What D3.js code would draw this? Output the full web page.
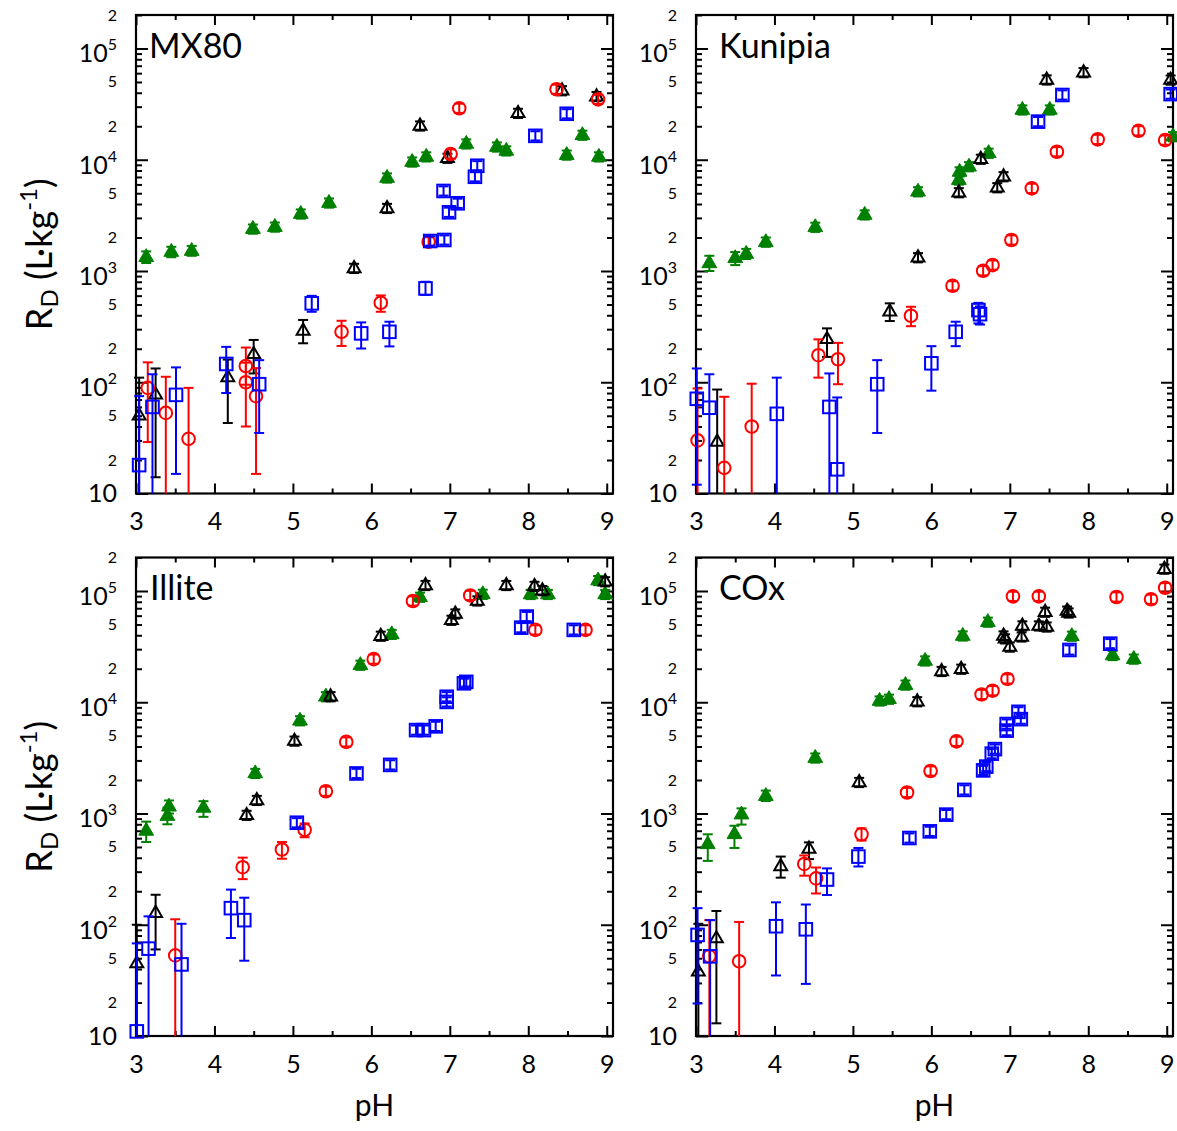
<!DOCTYPE html>
<html><head><meta charset="utf-8">
<script src="https://cdn.jsdelivr.net/npm/d3@7"></script>
<style>
body{margin:0;background:#fff}
text{font-family:Lato,"Open Sans","DejaVu Sans",sans-serif;fill:#000}
</style>
</head><body>
<svg id="chart" width="1177" height="1131"></svg>
<script>
// ---------------- data (pH, R_D [, low, high]) ----------------
const xTickValues = [3, 4, 5, 6, 7, 8, 9];
const xMinorTicks = [3.5, 4.5, 5.5, 6.5, 7.5, 8.5];
const yDecades = [10, 100, 1000, 10000, 100000];
const yMinorLabels = [20, 50, 200, 500, 2000, 5000, 20000, 50000, 200000];
const panelNames = ["MX80", "Kunipia", "Illite", "COx"];

const mx80Green = [[3.13,1330,1180,1500],[3.45,1480,1330,1650],[3.71,1510,1370,1680],[4.49,2380],[4.77,2480],[5.10,3250],[5.46,4080],[6.20,6850],[6.52,9530],[6.70,10600],[7.21,13860],[7.60,13000],[7.72,12000],[8.49,11000],[8.69,16600],[8.90,10600]];
const mx80Black = [[3.04,50,1,110],[3.25,77,14,133],[4.17,110,43,160],[4.50,178,120,240],[5.13,289,224,363],[5.78,1055],[6.20,3650],[6.62,20100],[6.97,10300],[7.87,26100],[8.43,41700],[8.87,36900]];
const mx80Red = [[3.15,89,29,151],[3.38,53,1,112],[3.67,31,1,89],[4.40,140,95,205],[4.40,100,40,150],[4.53,75,15,134],[5.62,284,212,357],[6.12,518,430,603],[6.73,1830],[7.01,11250],[7.12,29000],[8.36,43000],[8.89,34900]];
const mx80Blue = [[3.04,18,1,75],[3.21,60,1,118],[3.51,77,15,136],[4.15,146,80,208],[4.57,96,35,158],[5.24,512,430,598],[5.87,275,201,345],[6.23,284,210,350],[6.69,697,610,800],[6.75,1860],[6.93,1900],[6.92,5240],[6.99,3370],[7.10,4060],[7.32,7030],[7.35,8830],[8.09,16400],[8.49,25900]];

const kunGreen = [[3.17,1170,1000,1370],[3.50,1300,1130,1480],[3.64,1420,1280,1580],[3.89,1810,1650,2000],[4.52,2470],[5.15,3190],[5.83,5150],[6.35,6560],[6.36,7770],[6.48,8650],[6.73,11430],[7.16,28000],[7.51,28000],[9.08,16100]];
const kunBlack = [[3.27,29,1,86],[4.67,243,169,305],[5.47,430,355,512],[5.83,1315],[6.35,5050],[6.63,10100],[6.84,5600],[6.92,7030],[7.47,52100],[7.94,60600],[9.05,52000]];
const kunRed = [[3.02,30,1,88],[3.36,17,1,74],[3.71,40,1,97],[4.56,175,110,243],[4.81,161,96,226],[5.74,396,319,477],[6.27,736],[6.66,1005],[6.78,1130],[7.02,1900],[7.28,5530],[7.60,11800],[8.12,15240],[8.64,18200],[8.98,15000]];
const kunBlue = [[3.01,71,12,133],[3.17,59,1,118],[4.03,52,1,110],[4.70,60,1,120],[4.80,16.5,1,73],[5.31,96,35,158],[6.00,148,84,211],[6.31,284,211,350],[6.60,445,338,517],[6.62,409,330,480],[7.36,22000],[7.67,38200],[9.05,38900]];

const illGreen = [[3.13,697,554,845],[3.40,948,800,1130],[3.42,1150,1000,1309],[3.86,1122,933,1290],[4.52,2290],[5.09,6810],[5.42,11200],[5.86,21500],[6.26,40700],[6.62,87800],[7.42,93300],[8.03,93000],[8.25,93000],[8.89,124000],[8.98,93000]];
const illBlack = [[3.01,44.7,1,100],[3.25,127,60,186],[4.41,962],[4.54,1310],[5.02,4470],[5.48,11200],[6.12,39200],[6.69,112000],[7.02,54500],[7.07,62100],[7.35,81300],[7.72,112000],[8.08,110000],[8.18,100700],[8.98,121000]];
const illRed = [[3.50,53,1,112],[4.36,329,257,401],[4.86,475,392,554],[5.15,713,612,813],[5.42,1585],[5.68,4400],[6.03,24400],[6.53,81300],[7.26,91200],[8.09,44700],[8.73,44700]];
const illBlue = [[3.01,11,1,68],[3.16,61,1,119],[3.58,44,1,102],[4.21,141,76,207],[4.38,110,47.5,175],[5.05,826],[5.81,2290],[6.24,2735],[6.57,5620],[6.67,5620],[6.82,6070],[6.96,10070],[6.96,11200],[7.18,14800],[7.21,15250],[7.91,46800],[7.98,58900],[8.58,44700]];

const coxGreen = [[3.15,528,375,650],[3.49,650,490,776],[3.58,977,795,1112],[3.89,1432,1295,1606],[4.52,3150],[5.34,10260],[5.46,10640],[5.67,14250],[5.92,23500],[6.40,39400],[6.72,52400],[7.79,39200],[8.31,26300],[8.58,24400]];
const coxBlack = [[3.03,37.7,1,102],[3.26,75,13,133],[4.08,334,265,410],[4.44,479,389,550],[5.08,1900],[5.82,10100],[6.13,18900],[6.38,19800],[6.92,39400],[6.94,37100],[7.00,31300],[7.15,38600],[7.16,48500],[7.37,48500],[7.45,64400],[7.47,47400],[7.73,65900],[7.75,63400],[8.97,157000]];
const coxRed = [[3.17,52,1,110],[3.55,47,1,106],[4.38,352,276,420],[4.53,261,191,327],[5.11,650,571,735],[5.69,1545],[5.99,2410],[6.32,4450],[6.64,11750],[6.78,12700],[6.97,16200],[7.04,89500],[7.37,89500],[8.36,88300],[8.80,84300],[8.98,107000]];
const coxBlue = [[3.02,81,19.6,141],[3.18,52,1,110],[4.02,97,35,159],[4.40,91,29.4,152],[4.67,255,185,321],[5.07,410,334,490],[5.72,602],[5.98,691],[6.19,977],[6.42,1630],[6.66,2440],[6.70,2640],[6.77,3450],[6.81,3790],[6.96,6370],[6.96,5560],[7.11,8200],[7.14,7050],[7.76,29500],[8.28,33600]];

// ---------------- layout / style ----------------
const PW = 477, PH = 478.5;
const panels = [
  {name: panelNames[0], x0: 136, y0: 15,    nameDx: 13, series: [mx80Green, mx80Black, mx80Red, mx80Blue], yTitle: true,  xTitle: false},
  {name: panelNames[1], x0: 696, y0: 15,    nameDx: 23, series: [kunGreen, kunBlack, kunRed, kunBlue],     yTitle: false, xTitle: false},
  {name: panelNames[2], x0: 136, y0: 557.5, nameDx: 14, series: [illGreen, illBlack, illRed, illBlue],     yTitle: true,  xTitle: true},
  {name: panelNames[3], x0: 696, y0: 557.5, nameDx: 23, series: [coxGreen, coxBlack, coxRed, coxBlue],     yTitle: false, xTitle: true}
];
const styles = [
  {color: "#008000", shape: "triFilled"},
  {color: "#000000", shape: "tri"},
  {color: "#ff0000", shape: "circle"},
  {color: "#0000ff", shape: "square"}
];
const ERR = 1.1;

const svg = d3.select("#chart");

function minorTicks() {
  const t = [];
  for (let e = 1; e <= 5; e++) for (let m = 1; m <= 9; m++) {
    const v = m * Math.pow(10, e);
    if (m > 1 && v <= 2e5) t.push(v);
  }
  return t;
}

panels.forEach(p => {
  const x = d3.scaleLinear().domain([3, 9.08]).range([p.x0, p.x0 + PW]);
  const y = d3.scaleLog().domain([10, 2e5]).range([p.y0 + PH, p.y0]);
  const g = svg.append("g");

  const xb = p.y0 + PH, xt = p.y0, yl = p.x0, yr = p.x0 + PW;
  const tickStyle = sel => sel.call(s => s.select(".domain").remove())
    .call(s => s.selectAll("line").attr("stroke", "#000").attr("stroke-width", 2));
  g.append("g").attr("transform", `translate(0,${xb})`)
    .call(d3.axisBottom(x).tickValues(xTickValues).tickSize(-10).tickPadding(19).tickFormat(d3.format("d")))
    .call(tickStyle)
    .call(s => s.selectAll("text").attr("font-size", 25).attr("font-family", "Lato"));
  g.append("g").attr("transform", `translate(0,${xb})`)
    .call(d3.axisBottom(x).tickValues(xMinorTicks).tickSize(-5).tickFormat("")).call(tickStyle);
  g.append("g").attr("transform", `translate(0,${xt})`)
    .call(d3.axisTop(x).tickValues(xTickValues).tickSize(-10).tickFormat("")).call(tickStyle);
  g.append("g").attr("transform", `translate(0,${xt})`)
    .call(d3.axisTop(x).tickValues(xMinorTicks).tickSize(-5).tickFormat("")).call(tickStyle);
  g.append("g").attr("transform", `translate(${yl},0)`)
    .call(d3.axisLeft(y).tickValues(yDecades).tickSize(-12).tickFormat("")).call(tickStyle);
  g.append("g").attr("transform", `translate(${yl},0)`)
    .call(d3.axisLeft(y).tickValues(minorTicks()).tickSize(-6).tickFormat("")).call(tickStyle);
  g.append("g").attr("transform", `translate(${yr},0)`)
    .call(d3.axisRight(y).tickValues(yDecades).tickSize(-12).tickFormat("")).call(tickStyle);
  g.append("g").attr("transform", `translate(${yr},0)`)
    .call(d3.axisRight(y).tickValues(minorTicks()).tickSize(-6).tickFormat("")).call(tickStyle);

  g.append("rect").attr("x", yl).attr("y", xt).attr("width", PW).attr("height", PH)
    .attr("fill", "none").attr("stroke", "#000").attr("stroke-width", 2.2);

  const lx = yl - 19;
  yDecades.forEach(v => {
    const e = Math.round(Math.log10(v));
    if (e === 1) {
      g.append("text").attr("x", lx).attr("y", y(v) + 8.5).attr("text-anchor", "end")
        .attr("font-size", 25).text("10");
    } else {
      const t = g.append("text").attr("x", lx).attr("y", y(v) + 14).attr("text-anchor", "end")
        .attr("font-size", 25);
      t.append("tspan").text("10");
      t.append("tspan").attr("font-size", 16).attr("dy", -12).text(String(e));
    }
  });
  yMinorLabels.forEach(v => {
    const m = Math.round(v / Math.pow(10, Math.floor(Math.log10(v))));
    g.append("text").attr("x", lx).attr("y", y(v) + 5.5).attr("text-anchor", "end")
      .attr("font-size", 16).text(String(m));
  });

  g.append("text").attr("x", yl + p.nameDx).attr("y", xt + 42.5).attr("font-size", 34).text(p.name);

  p.series.forEach((pts, i) => {
    const st = styles[i];
    const sg = g.append("g").attr("stroke", st.color).attr("stroke-width", 2).attr("fill", "none");
    const lo = d => d.length > 2 ? d[2] : d[1] / ERR;
    const hi = d => d.length > 2 ? d[3] : d[1] * ERR;
    const yClamp = v => v < 10 ? y(10) : y(v);
    sg.selectAll("line.bar").data(pts).join("line").attr("class", "bar")
      .attr("x1", d => x(d[0])).attr("x2", d => x(d[0]))
      .attr("y1", d => yClamp(lo(d))).attr("y2", d => y(hi(d)));
    sg.selectAll("line.capTop").data(pts).join("line").attr("class", "capTop")
      .attr("x1", d => x(d[0]) - 5).attr("x2", d => x(d[0]) + 5)
      .attr("y1", d => y(hi(d))).attr("y2", d => y(hi(d)));
    sg.selectAll("line.capBot").data(pts.filter(d => lo(d) >= 10)).join("line").attr("class", "capBot")
      .attr("x1", d => x(d[0]) - 5).attr("x2", d => x(d[0]) + 5)
      .attr("y1", d => y(lo(d))).attr("y2", d => y(lo(d)));
    if (st.shape === "circle") {
      sg.selectAll("circle").data(pts).join("circle")
        .attr("cx", d => x(d[0])).attr("cy", d => y(d[1])).attr("r", 6.3);
    } else if (st.shape === "square") {
      sg.selectAll("rect").data(pts).join("rect")
        .attr("x", d => x(d[0]) - 6.3).attr("y", d => y(d[1]) - 6.3)
        .attr("width", 12.6).attr("height", 12.6);
    } else {
      const sym = d3.symbol().type(d3.symbolTriangle).size(st.shape === "triFilled" ? 95 : 72);
      sg.selectAll("path.mk").data(pts).join("path").attr("class", "mk")
        .attr("transform", d => `translate(${x(d[0])},${y(d[1])})`)
        .attr("d", sym)
        .attr("fill", st.shape === "triFilled" ? st.color : "none")
        .attr("stroke-width", st.shape === "triFilled" ? 1 : 2);
    }
  });

  if (p.xTitle) {
    g.append("text").attr("x", p.x0 + PW / 2).attr("y", xb + 80).attr("text-anchor", "middle")
      .attr("font-size", 30).text("pH");
  }
  if (p.yTitle) {
    const cy = p.y0 + PH / 2;
    const t = g.append("text").attr("transform", `translate(52,${cy}) rotate(-90)`)
      .attr("text-anchor", "middle").attr("font-size", 36);
    t.append("tspan").text("R");
    t.append("tspan").attr("font-size", 24).attr("dy", 6).text("D");
    t.append("tspan").attr("dy", -6).text(" (L·kg");
    t.append("tspan").attr("font-size", 24).attr("dy", -15).text("-1");
    t.append("tspan").attr("dy", 15).text(")");
  }
});
</script>
</body></html>
